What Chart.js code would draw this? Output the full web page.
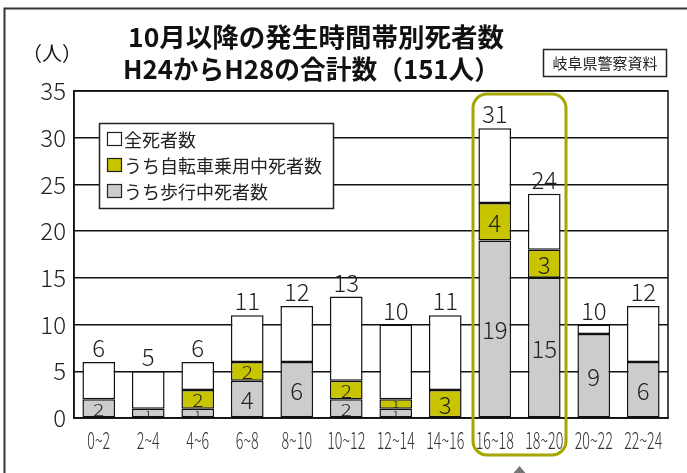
<!DOCTYPE html>
<html>
<head>
<meta charset="utf-8">
<script src="https://cdn.jsdelivr.net/npm/chart.js@4"></script>
<style>
  html, body { margin: 0; padding: 0; background: #fff; }
  #wrap { width: 687px; height: 473px; position: relative; }
</style>
</head>
<body>
<div id="wrap"><canvas id="chart" width="687" height="473"></canvas></div>
<script>
// Data
const categories = ['0~2', '2~4', '4~6', '6~8', '8~10', '10~12', '12~14', '14~16', '16~18', '18~20', '20~22', '22~24'];
const totalDeaths = [6, 5, 6, 11, 12, 13, 10, 11, 31, 24, 10, 12];
const bicycleDeaths = [0, 0, 2, 2, 0, 2, 1, 3, 4, 3, 0, 0];
const pedestrianDeaths = [2, 1, 1, 4, 6, 2, 1, 0, 19, 15, 9, 6];
const otherDeaths = totalDeaths.map((t, i) => t - bicycleDeaths[i] - pedestrianDeaths[i]);
const yTicks = [0, 5, 10, 15, 20, 25, 30, 35];

const titleLines = ['10月以降の発生時間帯別死者数', 'H24からH28の合計数（151人）'];
const legendLabels = ['全死者数', 'うち自転車乗用中死者数', 'うち歩行中死者数'];
const unitLabel = '（人）';
const sourceLabel = '岐阜県警察資料';

const GRAY = '#cccccc';
const YELLOW = '#c8c400';
const OLIVE = '#a8a400';
const JP = '"Noto Sans CJK JP", "Noto Sans", sans-serif';

// Labels inside / above the bars
const barLabels = {
    id: 'barLabels',
    afterDatasetsDraw(chart) {
        const ctx = chart.ctx;
        ctx.save();
        ctx.fillStyle = '#222';
        ctx.textAlign = 'center';
        ctx.textBaseline = 'middle';
        [0, 1].forEach(di => {
            const meta = chart.getDatasetMeta(di);
            meta.data.forEach((bar, i) => {
                const v = chart.data.datasets[di].data[i];
                if (!v) return;
                const h = Math.abs(bar.base - bar.y);
                const cy = (bar.base + bar.y) / 2;
                const vs = Math.min(1, (h * 0.66) / 17);
                const hs = Math.min(1, 0.4 + vs * 0.65);
                ctx.save();
                ctx.translate(bar.x, cy + 1);
                ctx.scale(hs, vs);
                ctx.font = '300 24px ' + JP;
                ctx.fillText(String(v), 0, 0);
                ctx.restore();
            });
        });
        // totals on top
        const top = chart.getDatasetMeta(2);
        top.data.forEach((bar, i) => {
            ctx.font = '300 24px ' + JP;
            ctx.textBaseline = 'alphabetic';
            ctx.fillText(String(totalDeaths[i]), bar.x, bar.y - 5);
        });
        ctx.restore();
    }
};

// Frame, titles, legend box, highlight, narrow x labels
const decorations = {
    id: 'decorations',
    beforeDatasetsDraw(chart) {
        const { ctx, chartArea: a } = chart;
        ctx.save();
        ctx.strokeStyle = '#111';
        ctx.lineWidth = 1.5;
        ctx.strokeRect(a.left, a.top, a.right - a.left, a.bottom - a.top);
        ctx.restore();
    },
    afterDraw(chart) {
        const { ctx, chartArea: a, scales } = chart;
        ctx.save();

        // outer frame
        ctx.strokeStyle = '#333';
        ctx.lineWidth = 2;
        ctx.beginPath();
        ctx.moveTo(4.5, 473);
        ctx.lineTo(4.5, 8.5);
        ctx.lineTo(687, 8.5);
        ctx.stroke();

        // x labels, condensed like the reference
        ctx.fillStyle = '#333';
        ctx.textAlign = 'center';
        ctx.textBaseline = 'middle';
        ctx.font = '300 23px ' + JP;
        categories.forEach((c, i) => {
            ctx.save();
            ctx.translate(scales.x.getPixelForValue(i), 440);
            ctx.scale(0.62, 1);
            ctx.fillText(c, 0, 0);
            ctx.restore();
        });

        // title
        ctx.fillStyle = '#111';
        ctx.textAlign = 'left';
        ctx.font = 'bold 26px ' + JP;
        const widths = [376, 377];
        const starts = [128, 123];
        const ys = [37, 69];
        titleLines.forEach((t, i) => {
            const w = ctx.measureText(t).width;
            ctx.save();
            ctx.translate(starts[i], ys[i]);
            ctx.scale(widths[i] / w, 1);
            ctx.fillText(t, 0, 0);
            ctx.restore();
        });

        // unit label
        ctx.font = '20px ' + JP;
        ctx.textAlign = 'center';
        ctx.fillText(unitLabel, 52, 53);

        // source box
        ctx.fillStyle = '#fff';
        ctx.fillRect(543, 49, 124, 28);
        ctx.strokeStyle = '#222';
        ctx.lineWidth = 1.5;
        ctx.strokeRect(543.5, 49.5, 123, 27);
        ctx.fillStyle = '#222';
        ctx.font = '15px ' + JP;
        ctx.fillText(sourceLabel, 605, 63);

        // legend box
        ctx.fillStyle = '#fff';
        ctx.fillRect(99, 123, 234, 85);
        ctx.strokeStyle = '#222';
        ctx.strokeRect(99.5, 123.5, 234, 85);
        const swatches = ['#ffffff', YELLOW, GRAY];
        const rowY = [139, 165, 191];
        legendLabels.forEach((t, i) => {
            ctx.fillStyle = swatches[i];
            ctx.fillRect(107, rowY[i] - 7, 15, 14);
            ctx.strokeStyle = '#222';
            ctx.lineWidth = 1.2;
            ctx.strokeRect(107.5, rowY[i] - 6.5, 14, 13);
            ctx.fillStyle = '#222';
            ctx.textAlign = 'left';
            ctx.font = '18px ' + JP;
            ctx.fillText(t, 124, rowY[i] + 1);
        });

        // highlight around 16~18 and 18~20
        const x = scales.x;
        const half = (x.getPixelForValue(1) - x.getPixelForValue(0)) / 2;
        const l = x.getPixelForValue(8) - half + 3;
        const r = x.getPixelForValue(9) + half - 3;
        const t = 94, b = 455;
        ctx.strokeStyle = OLIVE;
        ctx.lineWidth = 3;
        ctx.beginPath();
        ctx.roundRect(l, t, r - l, b - t, 14);
        ctx.stroke();

        // small marker below
        const mx = (l + r) / 2;
        ctx.fillStyle = '#777';
        ctx.beginPath();
        ctx.moveTo(mx - 6, 473);
        ctx.lineTo(mx, 466);
        ctx.lineTo(mx + 6, 473);
        ctx.closePath();
        ctx.fill();

        ctx.restore();
    }
};

new Chart(document.getElementById('chart'), {
    type: 'bar',
    data: {
        labels: categories,
        datasets: [
            { label: legendLabels[2], data: pedestrianDeaths, backgroundColor: GRAY },
            { label: legendLabels[1], data: bicycleDeaths, backgroundColor: YELLOW },
            { label: legendLabels[0], data: otherDeaths, backgroundColor: '#ffffff' }
        ].map(d => Object.assign(d, {
            borderColor: '#111',
            borderWidth: 1.5,
            borderSkipped: false,
            barPercentage: 0.66,
            categoryPercentage: 1.0
        }))
    },
    options: {
        responsive: false,
        animation: false,
        layout: { padding: { left: 0, top: 91, right: 19, bottom: 0 } },
        plugins: { legend: { display: false }, tooltip: { enabled: false } },
        scales: {
            x: {
                stacked: true,
                grid: { display: false },
                border: { color: '#111', width: 1.5 },
                ticks: {
                    color: 'rgba(0,0,0,0)',
                    padding: 12,
                    maxRotation: 0,
                    autoSkip: false,
                    font: { size: 12 }
                },
                afterFit(s) { s.height = 55; }
            },
            y: {
                stacked: true,
                min: 0,
                max: 35,
                afterBuildTicks(s) { s.ticks = yTicks.map(v => ({ value: v })); },
                grid: { color: '#111', lineWidth: 1.5, drawTicks: false },
                border: { color: '#111', width: 1.5 },
                ticks: {
                    color: '#222',
                    padding: 8,
                    font: { family: JP, size: 24, weight: '300' }
                },
                afterFit(s) { s.width = 74; }
            }
        }
    },
    plugins: [barLabels, decorations]
});
</script>
</body>
</html>
